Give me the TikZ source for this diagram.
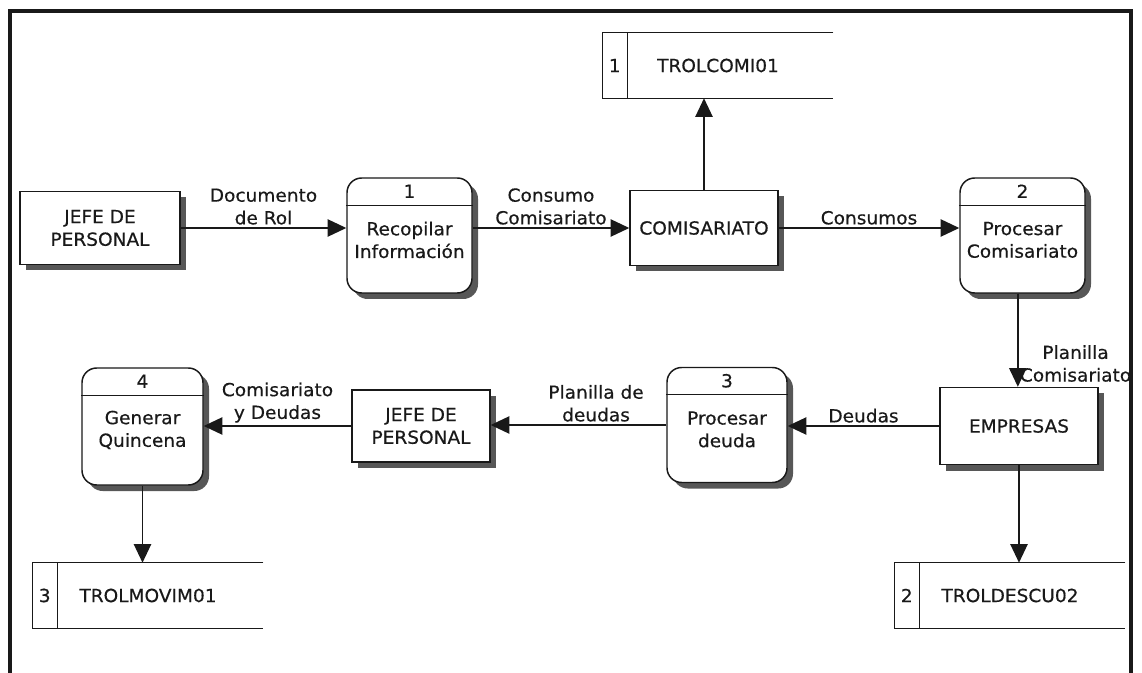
\documentclass[tikz,border=0pt]{standalone}
\usepackage{fontspec}
\setmainfont[FakeStretch=1.03, FakeBold=0.5]{DejaVu Sans}
\usetikzlibrary{arrows.meta,shadows,positioning}

\definecolor{ink}{RGB}{25,25,25}
\definecolor{shade}{RGB}{45,45,45}

\begin{document}
\begin{tikzpicture}[x=0.75pt, y=-0.75pt,
		every node/.style={font=\fontsize{13.5}{17}\selectfont, text=ink},
		entity/.style={draw=ink, line width=1.1pt, fill=white, align=center, inner sep=0pt,
				drop shadow={shadow xshift=4.5pt, shadow yshift=-4.5pt, fill=shade, opacity=0.8}},
		process/.style={entity, rounded corners=11pt},
		store/.style={inner sep=0pt, minimum width=172.5pt, minimum height=48.75pt},
		flow/.style={draw=ink, line width=1.1pt, -{Triangle[length=14pt,width=13pt]}},
		lbl/.style={align=center, inner sep=2pt},
		frame/.style={draw=ink, line width=2.4pt}]

			\useasboundingbox (0,0) rectangle (1142,673);
			\draw[frame] (10,673) -- (10,11) -- (1131,11) -- (1131,673);

			% --- Entities ---
			\node[entity, minimum width=120pt, minimum height=54.75pt] (jefe1) at (100,228) {JEFE DE\\PERSONAL};
			\node[entity, minimum width=111pt, minimum height=56.25pt] (comi) at (704,228) {COMISARIATO};
			\node[entity, minimum width=118.5pt, minimum height=57.75pt] (emp) at (1019,426) {EMPRESAS};
			\node[entity, minimum width=103.5pt, minimum height=54pt] (jefe2) at (421,426) {JEFE DE\\PERSONAL};

			% --- Processes ---
			\node[process, minimum width=93.75pt, minimum height=86.25pt] (p1) at (409.5,235.5) {};
			\node[process, minimum width=93.75pt, minimum height=86.25pt] (p2) at (1022.5,235.5) {};
			\node[process, minimum width=90pt, minimum height=86.25pt] (p3) at (727,425) {};
			\node[process, minimum width=90.75pt, minimum height=87.75pt] (p4) at (142.5,426.5) {};
			\foreach \p/\n/\t in {p1/1/{Recopilar\\Información}, p2/2/{Procesar\\Comisariato},
					p3/3/{Procesar\\deuda}, p4/4/{Generar\\Quincena}} {
					\draw[draw=ink, line width=1.1pt] ([yshift=-21pt]\p.north west) -- ([yshift=-21pt]\p.north east);
					\node (\p-num) at ([yshift=-10.5pt]\p.north) {\n};
					\node[align=center, inner sep=0pt] (\p-txt) at ([yshift=-47pt]\p.north) {\t};
				}

			% --- Data stores ---
			\node[store] (s1) at (718,65.5) {TROLCOMI01};
			\node[store] (s2) at (1010,595.5) {TROLDESCU02};
			\node[store] (s3) at (148,595.5) {TROLMOVIM01};
			\foreach \s/\n in {s1/1, s2/2, s3/3} {
					\draw[draw=ink, line width=1.1pt] (\s.north east) -- (\s.north west) -- (\s.south west) -- (\s.south east);
					\draw[draw=ink, line width=1.1pt] ([xshift=18.75pt]\s.north west) -- ([xshift=18.75pt]\s.south west);
					\node (\s-num) at ([xshift=9pt]\s.west) {\n};
				}

			% --- Flows ---
			\draw[flow] (jefe1.east) -- (jefe1.east -| p1.west) node[lbl, midway, above] {Documento\\de Rol};
			\draw[flow] (p1.east |- comi.west) -- (comi.west) node[lbl, midway, above] {Consumo\\Comisariato};
			\draw[flow] (comi.north) -- (comi.north |- s1.south);
			\draw[flow] (comi.east) -- (comi.east -| p2.west) node[lbl, midway, above] {Consumos};
			\draw[flow] ([xshift=-3.5pt]p2.south) -- ([xshift=-3.5pt]p2.south |- emp.north)
				node[lbl, pos=0.75, right, inner sep=1pt] {Planilla\\Comisariato};
			\draw[flow] (emp.west) -- (emp.west -| p3.east) node[lbl, midway, above] {Deudas};
			\draw[flow] (emp.south) -- (emp.south |- s2.north);
			\draw[flow] (p3.west) -- (p3.west -| jefe2.east) node[lbl, pos=0.4, above] {Planilla de\\deudas};
			\draw[flow] (jefe2.west) -- (jefe2.west -| p4.east) node[lbl, midway, above] {Comisariato\\y Deudas};
			\draw[flow] (p4.south) -- (p4.south |- s3.north);

		\end{tikzpicture}
\end{document}
